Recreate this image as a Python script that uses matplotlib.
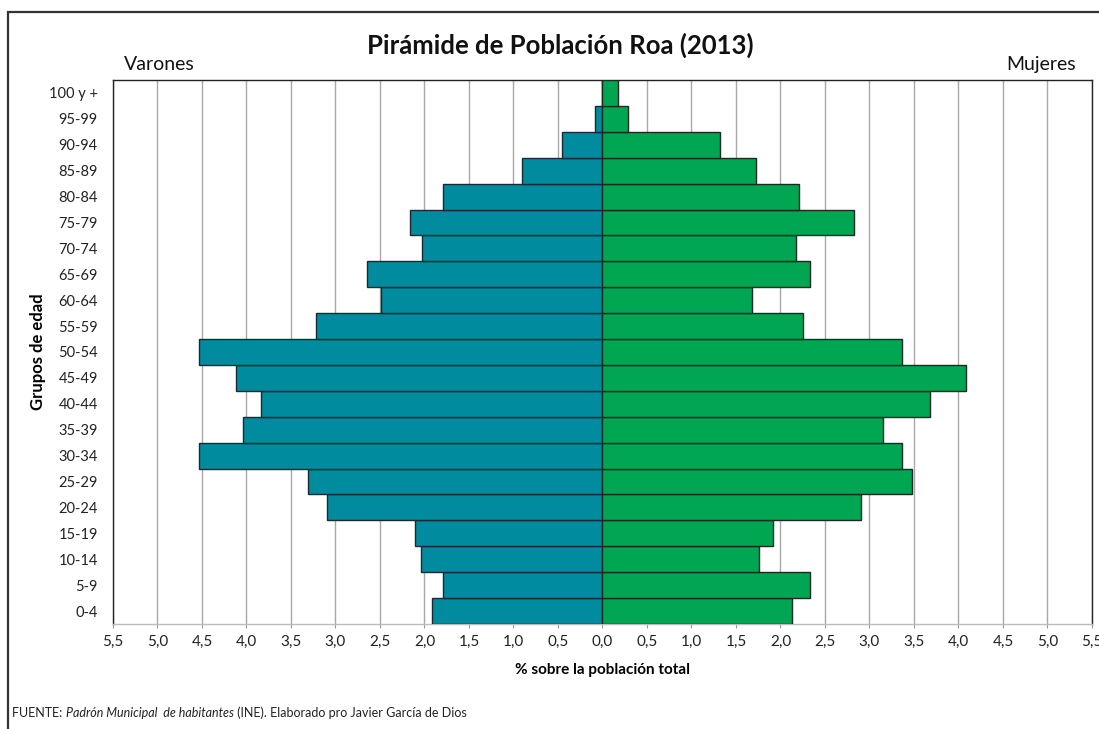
import numpy as np
import matplotlib
matplotlib.use("Agg")
import matplotlib.pyplot as plt
from matplotlib.patches import Rectangle

plt.rcParams['font.family'] = ['Lato', 'DejaVu Sans']

# age groups from bottom to top
grupos = ['0-4', '5-9', '10-14', '15-19', '20-24', '25-29', '30-34', '35-39',
          '40-44', '45-49', '50-54', '55-59', '60-64', '65-69', '70-74',
          '75-79', '80-84', '85-89', '90-94', '95-99', '100 y +']

# % over total population
varones = [1.91, 1.79, 2.04, 2.11, 3.10, 3.31, 4.53, 4.04, 3.84, 4.12, 4.53,
           3.22, 2.49, 2.65, 2.03, 2.16, 1.79, 0.90, 0.45, 0.08, 0.0]
mujeres = [2.13, 2.33, 1.76, 1.92, 2.91, 3.48, 3.36, 3.15, 3.68, 4.09, 3.36,
           2.25, 1.68, 2.33, 2.17, 2.83, 2.21, 1.72, 1.32, 0.29, 0.17]

xticks = np.arange(-5.5, 5.51, 0.5)
xticklabels = [('%.1f' % abs(v)).replace('.', ',') for v in xticks]

fig = plt.figure(figsize=(10.99, 7.29), dpi=100)
ax = fig.add_axes([0.1028, 0.1440, 0.8908, 0.7463])

y = np.arange(len(grupos))
ax.barh(y, -np.array(varones), height=1.0, color='#008B9F',
        edgecolor='#1a2a30', linewidth=1.0, zorder=3)
ax.barh(y, mujeres, height=1.0, color='#00A651',
        edgecolor='#1a2a20', linewidth=1.0, zorder=3)

ax.set_xlim(-5.5, 5.5)
ax.set_ylim(-0.5, len(grupos) - 0.5)
ax.set_xticks(xticks)
ax.set_xticklabels(xticklabels, fontsize=11, color='#222222')
ax.set_yticks(y)
ax.set_yticklabels(grupos, fontsize=10.5, color='#222222')
ax.tick_params(axis='x', length=3, color='#999999', pad=5)
ax.tick_params(axis='y', length=0, pad=11)
ax.xaxis.grid(True, color='#A8A8A8', linewidth=1.0, zorder=0)
ax.set_axisbelow(True)
for s in ax.spines.values():
    s.set_color('#222222')
    s.set_linewidth(1.0)
ax.spines['bottom'].set_color('#BBBBBB')

ax.set_xlabel('% sobre la población total', fontsize=11, fontweight='bold',
              labelpad=10)
ax.set_ylabel('Grupos de edad', fontsize=12, fontweight='bold')
ax.yaxis.set_label_coords(-0.0684, 0.5)

fig.text(0.5095, 0.938, 'Pirámide de Población Roa (2013)', ha='center',
         va='center', fontsize=18.5, fontweight='bold', color='#111111')
fig.text(0.1128, 0.911, 'Varones', ha='left', va='center', fontsize=14,
         color='#111111')
fig.text(0.979, 0.911, 'Mujeres', ha='right', va='center', fontsize=14,
         color='#111111')

# source line with mixed styles
ys = 0.016
t1 = fig.text(0.011, ys, 'FUENTE: ', fontsize=9, color='#222222')
t2 = fig.text(0, 0, 'Padrón Municipal  de habitantes', fontsize=9,
              style='italic', color='#222222')
fig.canvas.draw()
r = fig.canvas.get_renderer()
bb = t1.get_window_extent(r).transformed(fig.transFigure.inverted())
t2.set_position((bb.x1, ys))
bb2 = t2.get_window_extent(r).transformed(fig.transFigure.inverted())
fig.text(bb2.x1, ys, ' (INE). Elaborado pro Javier García de Dios',
         fontsize=9, color='#222222')

# outer frame
fig.patches.append(Rectangle((8 / 1099, -0.1), 1.2, 1 - 12 / 729 + 0.1,
                             transform=fig.transFigure, fill=False,
                             edgecolor='#333333', linewidth=1.6))

fig.savefig('out.png', dpi=100)
